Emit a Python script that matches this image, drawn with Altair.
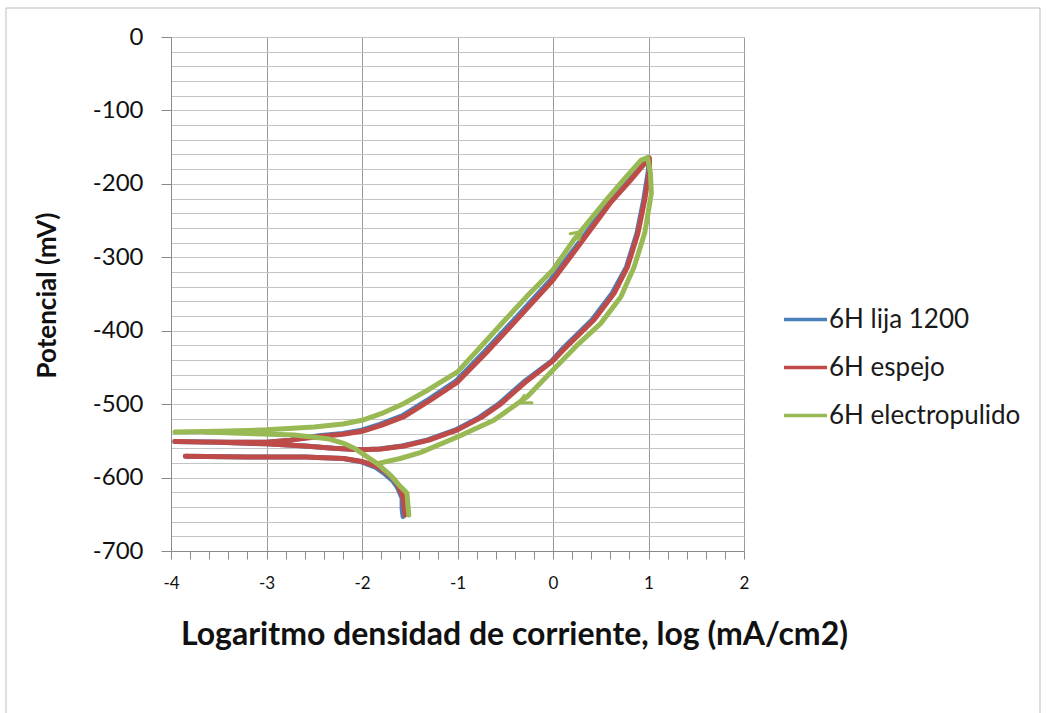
import altair as alt
import pandas as pd

# Series names and their Office-style colours
series_names = ["6H lija 1200", "6H espejo", "6H electropulido"]
series_colors = ["#4a7ebb", "#be4b48", "#98b954"]

# log10 of current density (mA/cm2) and potential (mV) for each cyclic scan,
# listed in scan order: cathodic branch, forward anodic branch, reverse branch.
lija_x = [-1.57, -1.58, -1.58, -1.63, -1.68, -1.77, -1.86, -2.02, -2.20, -2.60, -3.20, -3.85,
          -3.96, -3.40, -3.00, -2.75, -2.45, -2.20, -2.02, -1.82, -1.58, -1.32, -1.02, -0.72,
          -0.42, -0.02, 0.28, 0.58, 0.78, 0.95, 1.00,
          1.00, 0.95, 0.88, 0.77, 0.62, 0.41, 0.09, -0.02, -0.29, -0.57, -0.77, -1.02, -1.32,
          -1.58, -1.82, -2.02, -2.30, -2.60, -3.00, -3.50, -3.96]
lija_y = [-653, -642, -628, -613, -604, -594, -586, -578, -574, -572, -572, -571,
          -551, -552, -552, -549, -543, -540, -536, -528, -516, -495, -469, -429,
          -387, -330, -279, -225, -196, -171, -164,
          -181, -222, -267, -313, -349, -385, -426, -442, -468, -500, -518, -535, -549,
          -557, -561, -562, -560, -557, -554, -552, -551]

espejo_x = [-1.55, -1.56, -1.57, -1.62, -1.66, -1.75, -1.84, -2.00, -2.19, -2.60, -3.20, -3.85,
            -3.96, -3.40, -3.00, -2.75, -2.44, -2.20, -2.00, -1.80, -1.56, -1.30, -1.00, -0.70,
            -0.40, 0.00, 0.30, 0.60, 0.80, 0.96, 1.01,
            1.01, 0.96, 0.89, 0.78, 0.64, 0.43, 0.11, 0.00, -0.27, -0.55, -0.75, -1.00, -1.30,
            -1.56, -1.80, -2.00, -2.30, -2.60, -3.00, -3.50, -3.96]
espejo_y = [-651, -640, -626, -612, -603, -593, -585, -578, -574, -572, -572, -571,
            -551, -552, -552, -549, -544, -541, -537, -529, -517, -496, -470, -430,
            -388, -331, -279, -226, -197, -172, -165,
            -181, -222, -267, -313, -349, -385, -426, -441, -468, -500, -518, -535, -549,
            -557, -561, -562, -560, -557, -554, -552, -551]

electro_x = [-1.51, -1.52, -1.53, -1.60, -1.70, -1.84, -2.00, -2.08, -2.20, -2.36, -2.71, -3.20, -3.65,
             -3.96, -3.50, -3.00, -2.50, -2.20, -2.00, -1.80, -1.56, -1.30, -1.00, -0.80, -0.50,
             -0.25, 0.00, 0.22, 0.57, 0.75, 0.92, 0.99,
             1.02, 1.03, 0.96, 0.85, 0.71, 0.50, 0.25, 0.01, -0.27, -0.62, -0.99, -1.39, -1.60, -1.84]
electro_y = [-651, -636, -621, -612, -597, -581, -567, -560, -553, -547, -542, -540, -538,
             -538, -537, -535, -531, -527, -522, -513, -499, -480, -456, -428, -385,
             -350, -317, -276, -220, -193, -168, -164,
             -185, -213, -267, -313, -354, -390, -420, -452, -490, -522, -544, -566, -574, -581]

# Number of leading points that belong to the cathodic branch of each scan
cathodic_points = [12, 12, 13]

# Two scan-direction arrowheads drawn on the electropolished curve
arrow_id = ["up", "up", "up", "down", "down", "down"]
arrow_x = [0.18, 0.30, 0.27, -0.22, -0.36, -0.30]
arrow_y = [-268, -265, -276, -498, -498, -488]

series_x = [lija_x, espejo_x, electro_x]
series_y = [lija_y, espejo_y, electro_y]

frames = []
for name, xs, ys, nc in zip(series_names, series_x, series_y, cathodic_points):
    n = len(xs)
    frames.append(pd.DataFrame({
        "serie": name,
        "x": xs,
        "y": ys,
        "i": range(n),
        "tramo": ["catodico" if k < nc else "anodico" for k in range(n)],
    }))

arrows = pd.DataFrame({"seg": arrow_id, "x": arrow_x, "y": arrow_y, "i": range(len(arrow_x))})

x_ticks = [round(-4 + 0.2 * k, 1) for k in range(31)]
y_ticks = list(range(-700, 1, 20))
is_int = "abs(datum.value - round(datum.value)) < 0.001"
is_hundred = "datum.value % 100 == 0"

x_axis = alt.Axis(
    values=x_ticks,
    grid=True,
    gridColor="#9c9c9c",
    gridWidth=1,
    gridOpacity={"condition": {"test": is_int, "value": 1}, "value": 0},
    domainColor="#8a8a8a",
    tickColor="#8a8a8a",
    tickSize=8,
    labelExpr=is_int + " ? '' + round(datum.value) : ''",
    labelFont="Lato",
    labelFontSize=17,
    labelColor="#111111",
    labelPadding=16,
    labelOverlap=False,
    labelFlush=False,
    labelBound=False,
    title="Logaritmo densidad de corriente, log (mA/cm2)",
    titleFont="Lato",
    titleFontSize=32,
    titleFontWeight="bold",
    titleColor="#111111",
    titleX=343,
    titleY=83,
    titleAlign="center",
    titleBaseline="middle",
)

y_axis = alt.Axis(
    values=y_ticks,
    grid=True,
    gridColor="#c4c4c4",
    gridWidth=1,
    domainColor="#8a8a8a",
    tickColor="#8a8a8a",
    tickSize=10,
    tickOpacity={"condition": {"test": is_hundred, "value": 1}, "value": 0},
    labelExpr=is_hundred + " ? '' + datum.value : ''",
    labelFont="Lato",
    labelFontSize=24,
    labelColor="#111111",
    labelPadding=18,
    labelOverlap=False,
    labelFlush=False,
    labelBound=False,
    title="Potencial (mV)",
    titleFont="Lato",
    titleFontSize=26,
    titleFontWeight="bold",
    titleColor="#111111",
    titleX=-124,
    titleY=258,
    titleAlign="center",
    titleBaseline="middle",
)

x_scale = alt.Scale(domain=[-4, 2], nice=False, zero=False)
y_scale = alt.Scale(domain=[-700, 0], nice=False, zero=False)

color = alt.Color(
    "serie:N",
    scale=alt.Scale(domain=series_names, range=series_colors),
    legend=alt.Legend(
        title=None,
        orient="none",
        legendX=611,
        legendY=259,
        symbolType="stroke",
        symbolSize=1850,
        symbolStrokeWidth=3.5,
        labelFont="Lato",
        labelFontSize=26,
        labelColor="#1a1a1a",
        labelOffset=0,
        labelLimit=400,
        rowPadding=11,
        padding=0,
    ),
)

# Light frame around the whole chart area
frame = alt.Chart(alt.Data(values=[{"k": 1}])).mark_rect(
    filled=False, stroke="#bdbdbd", strokeWidth=1
).encode(
    x=alt.value(-165), x2=alt.value(869), y=alt.value(-29), y2=alt.value(690)
)

layers = [frame]
for df in frames:
    layers.append(
        alt.Chart(df).mark_line(strokeWidth=5, strokeJoin="round", strokeCap="round").encode(
            x=alt.X("x:Q", scale=x_scale, axis=x_axis),
            y=alt.Y("y:Q", scale=y_scale, axis=y_axis),
            color=color,
            detail="tramo:N",
            order=alt.Order("i:Q"),
        )
    )

arrow_layer = alt.Chart(arrows).mark_line(
    color="#98b954", strokeWidth=3, strokeCap="round"
).encode(
    x=alt.X("x:Q", scale=x_scale, axis=x_axis),
    y=alt.Y("y:Q", scale=y_scale, axis=y_axis),
    detail="seg:N",
    order=alt.Order("i:Q"),
)
layers.append(arrow_layer)

chart = alt.layer(*layers).properties(
    width=573,
    height=514,
    padding={"left": 171, "top": 37, "right": 302, "bottom": 162},
    autosize=alt.AutoSizeParams(type="none"),
    background="white",
).configure_view(strokeWidth=0)

chart.save("out.html", embed_options={"renderer": "svg", "actions": False})
